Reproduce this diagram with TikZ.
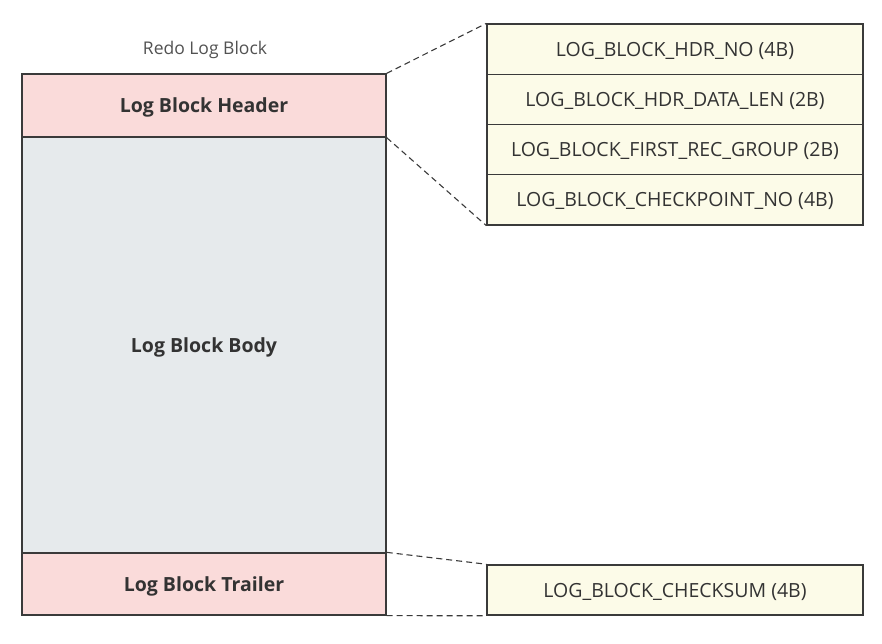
\documentclass[tikz,border=0pt]{standalone}
\usepackage{fontspec}
\setmainfont{Open Sans}
\definecolor{hdrpink}{HTML}{FADBDA}
\definecolor{bodygray}{HTML}{E6EAEC}
\definecolor{fldyellow}{HTML}{FCFBE8}
\definecolor{edge}{HTML}{3A3A3A}
\definecolor{ink}{HTML}{333333}
\newcommand{\fsz}[1]{\fontsize{#1}{#1}\selectfont}

\begin{document}
\begin{tikzpicture}[x=1pt, y=-1pt, line width=1.3pt,
  blk/.style={draw=edge, inner sep=0pt, text depth=0pt, minimum width=364pt, text=ink, font=\fsz{19.5}\bfseries},
  fld/.style={draw=edge, fill=fldyellow, inner sep=0pt, text depth=0pt, minimum width=376pt, minimum height=50.25pt, text=ink, font=\fsz{19.5}},
  link/.style={draw=edge, dash pattern=on 6pt off 4pt, line width=1.1pt}]
  \useasboundingbox (0,0) rectangle (882,644);
  % redo log block
  \node[font=\fsz{17.5}, text=ink!85] (title) at (205,50) {Redo Log Block};
  \node[blk, fill=hdrpink, minimum height=63pt] (hdr) at (204,105.5) {Log Block Header};
  \node[blk, fill=bodygray, minimum height=416pt] (body) at (204,345) {Log Block Body};
  \node[blk, fill=hdrpink, minimum height=62pt] (trl) at (204,584) {Log Block Trailer};
  % header fields
  \foreach \n/\t [count=\i] in {f1/LOG\_BLOCK\_HDR\_NO (4B), f2/LOG\_BLOCK\_HDR\_DATA\_LEN (2B),
      f3/LOG\_BLOCK\_FIRST\_REC\_GROUP (2B), f4/LOG\_BLOCK\_CHECKPOINT\_NO (4B)}
    \node[fld] (\n) at (675,{24+50.25*(\i-0.5)}) {\t};
  % trailer field
  \node[fld] (ck) at (675,590) {LOG\_BLOCK\_CHECKSUM (4B)};
  \draw[link] (hdr.north east) -- (f1.north west);
  \draw[link] (hdr.south east) -- (f4.south west);
  \draw[link] (trl.north east) -- (ck.north west);
  \draw[link] (trl.south east) -- (ck.south west);
\end{tikzpicture}
\end{document}
